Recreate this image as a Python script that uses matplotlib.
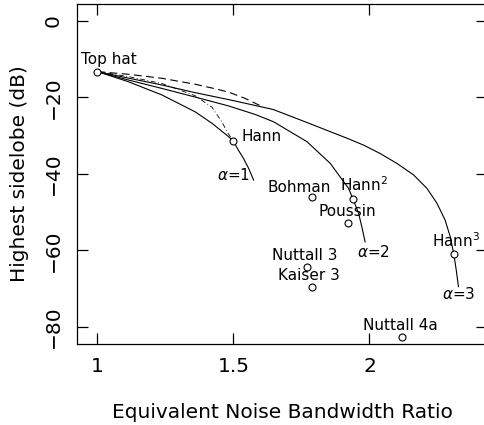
import numpy as np
import matplotlib
matplotlib.use('Agg')
import matplotlib.pyplot as plt

plt.rc('font', family='DejaVu Sans', size=11)
plt.rc('xtick', labelsize=14.5)
plt.rc('ytick', labelsize=14.5)
plt.rc('axes', labelsize=14.5, linewidth=0.9)
plt.rc('mathtext', fontset='dejavusans')

# named windows: equivalent noise bandwidth ratio, highest sidelobe (dB)
names = ['Top hat', 'Hann', 'Hann$^2$', 'Hann$^3$', 'Bohman', 'Poussin',
         'Nuttall 3', 'Kaiser 3', 'Nuttall 4a']
enbw = [1.00, 1.50, 1.94, 2.31, 1.79, 1.92, 1.77, 1.79, 2.12]
sidelobe = [-13.3, -31.5, -46.7, -61.0, -46.0, -53.0, -64.3, -69.5, -82.6]

# label offsets in pixels (dx, dy) from each marker, text left/baseline
label_off = [(-16, 8), (8, 0), (-13, 8), (-22, 7), (-45, 5), (-29, 7),
             (-35, 7), (-34, 7), (-39, 7)]

# alpha family curves
a1_x = [1.000, 1.114, 1.237, 1.359, 1.421, 1.482, 1.500, 1.517, 1.537,
        1.556, 1.574]
a1_y = [-13.3, -15.95, -19.4, -23.8, -26.8, -30.3, -31.5, -33.7, -36.0,
        -38.6, -41.65]

a2_x = [1.000, 1.114, 1.237, 1.359, 1.481, 1.580, 1.647, 1.770, 1.856,
        1.892, 1.923, 1.940, 1.960, 1.972, 1.984]
a2_y = [-13.3, -15.5, -17.7, -19.95, -22.25, -24.5, -26.4, -31.6, -37.3,
        -40.8, -43.8, -46.7, -50.35, -53.9, -57.8]

a3_x = [1.000, 1.114, 1.237, 1.359, 1.488, 1.646, 1.770, 1.856, 1.917,
        1.978, 2.039, 2.101, 2.162, 2.211, 2.248, 2.278, 2.297, 2.310,
        2.319, 2.327]
a3_y = [-13.3, -15.0, -16.8, -18.8, -20.7, -23.2, -26.6, -29.0, -30.7,
        -32.5, -34.7, -37.3, -40.3, -43.8, -47.7, -52.1, -56.5, -61.0,
        -65.2, -69.5]

dash_x = [1.000, 1.114, 1.237, 1.359, 1.422, 1.482, 1.543, 1.607]
dash_y = [-13.3, -14.0, -15.05, -16.6, -17.6, -18.65, -20.3, -22.5]

dd_x = [1.000, 1.114, 1.237, 1.359, 1.421, 1.457, 1.480, 1.500]
dd_y = [-13.3, -14.6, -16.4, -19.6, -22.6, -26.4, -29.4, -31.5]

alpha_labels = [r'$\alpha$=1', r'$\alpha$=2', r'$\alpha$=3']
alpha_off = [(-37, 0), (-8, -15), (-16, -12)]

fig = plt.figure(figsize=(4.84, 4.25), dpi=100)
ax = fig.add_axes([77/484, 81/425, 410/484, 340/425])

lw = 0.8
ax.plot(a1_x, a1_y, 'k-', lw=lw)
ax.plot(a2_x, a2_y, 'k-', lw=lw)
ax.plot(a3_x, a3_y, 'k-', lw=lw)
ax.plot(dash_x, dash_y, 'k', lw=lw, ls=(0, (7, 4)))
ax.plot(dd_x, dd_y, 'k', lw=0.6, ls=(0, (6, 3, 1, 3)))

ax.plot(enbw, sidelobe, 'o', ms=5, mfc='white', mec='k', mew=0.8, zorder=5)

px = 0.72  # points per pixel
for name, x, y, (dx, dy) in zip(names, enbw, sidelobe, label_off):
    ax.annotate(name, (x, y), xytext=(dx*px, dy*px), textcoords='offset points',
                ha='left', va='baseline', fontsize=11)

ends = [(a1_x[-1], a1_y[-1]), (a2_x[-1], a2_y[-1]), (a3_x[-1], a3_y[-1])]
for lab, (x, y), (dx, dy) in zip(alpha_labels, ends, alpha_off):
    ax.annotate(lab, (x, y), xytext=(dx*px, dy*px), textcoords='offset points',
                ha='left', va='baseline', fontsize=11)

ax.set_xlim(0.925, 2.432)
ax.set_ylim(-84.5, 4.37)
ax.set_xticks([1, 1.5, 2])
ax.set_xticklabels(['1', '1.5', '2'])
ax.set_yticks([0, -20, -40, -60, -80])
ax.tick_params(direction='in', length=8, width=0.9, top=True, right=True)
ax.tick_params(axis='x', pad=9)
ax.tick_params(axis='y', pad=10)
for t in ax.get_yticklabels():
    t.set_rotation(90)
    t.set_va('center')

ax.set_xlabel('Equivalent Noise Bandwidth Ratio', labelpad=20)
ax.set_ylabel('Highest sidelobe (dB)', labelpad=11)

plt.savefig('out.png', dpi=100)
